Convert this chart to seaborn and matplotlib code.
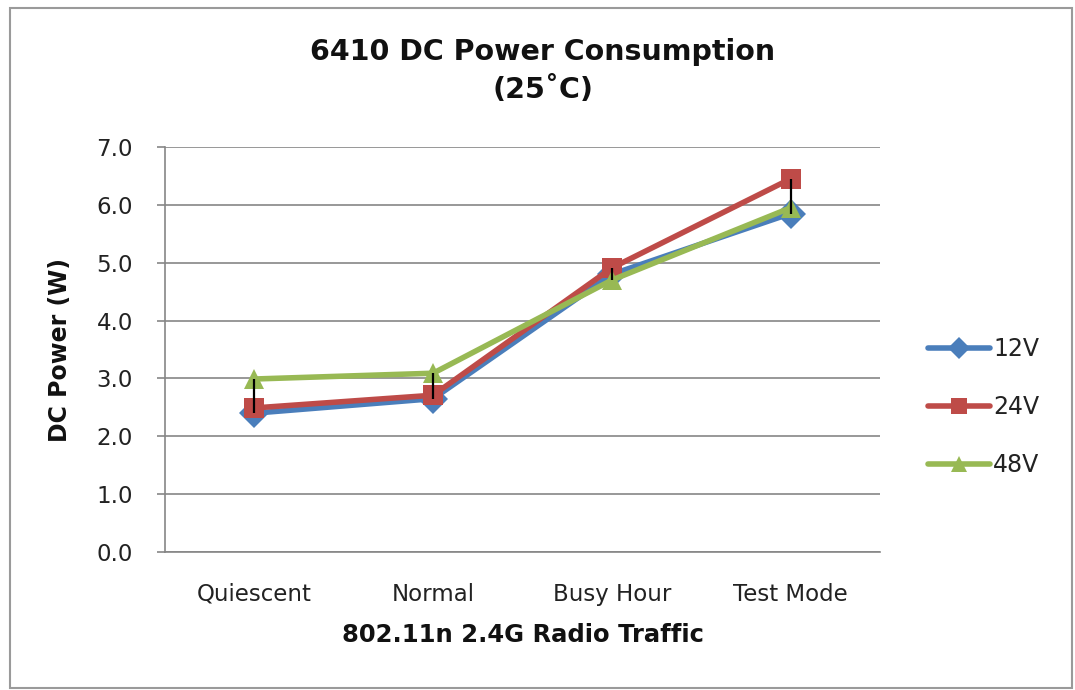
import numpy as np
import pandas as pd
import matplotlib
matplotlib.use("Agg")
import matplotlib.pyplot as plt
import seaborn as sns
from matplotlib.patches import Rectangle

# data
categories = ["Quiescent", "Normal", "Busy Hour", "Test Mode"]
v12 = [2.40, 2.65, 4.80, 5.85]
v24 = [2.49, 2.71, 4.91, 6.45]
v48 = [2.99, 3.09, 4.70, 5.95]
series = ["12V", "24V", "48V"]

df = pd.DataFrame({
    "cat": categories * 3,
    "x": list(range(len(categories))) * 3,
    "power": v12 + v24 + v48,
    "volt": [s for s in series for _ in categories],
})

sns.set_style("white")
plt.rcParams['font.family'] = ['DejaVu Sans']

palette = {"12V": "#4A7EBB", "24V": "#BE4B48", "48V": "#98B954"}
markers = {"12V": "D", "24V": "s", "48V": "^"}

fig = plt.figure(figsize=(10.75, 6.9), dpi=100)
ax = fig.add_axes([165 / 1075, 1 - 552 / 690, 715 / 1075, 405 / 690])

sns.lineplot(data=df, x="x", y="power", hue="volt", style="volt",
             palette=palette, markers=markers, dashes=False, linewidth=4,
             markersize=15, markeredgewidth=0, ax=ax, legend=False, zorder=3)

# high-low lines
lo = df.groupby("x")["power"].min()
hi = df.groupby("x")["power"].max()
ax.vlines(lo.index, lo.values, hi.values, color="black", linewidth=1.6, zorder=4)

ax.set_xlim(-0.5, 3.5)
ax.set_ylim(0, 7)
yt = np.arange(0, 7.01, 1.0)
ax.set_yticks(yt)
ax.set_yticklabels([f"{t:.1f}" for t in yt], fontsize=16.5, color="#222222")
ax.set_xticks(range(len(categories)))
ax.set_xticklabels(categories, fontsize=16.5, color="#222222")
ax.tick_params(axis="x", length=0, pad=22)
ax.tick_params(axis="y", length=6, color="#868686", width=1.2, left=True, pad=17)
ax.yaxis.grid(True, color="#868686", linewidth=1.2)
ax.set_axisbelow(True)
for s in ["top", "right"]:
    ax.spines[s].set_visible(False)
for s in ["left", "bottom"]:
    ax.spines[s].set_color("#868686")
    ax.spines[s].set_linewidth(1.2)

ax.set_xlabel("802.11n 2.4G Radio Traffic", fontsize=17.5, fontweight="bold", color="#111111")
ax.set_ylabel("DC Power (W)", fontsize=17, fontweight="bold", color="#111111")
ax.xaxis.set_label_coords(0.5, -0.175)
ax.yaxis.set_label_coords(-0.13, 0.5)

fig.text(543 / 1075, 1 - 71 / 690, "6410 DC Power Consumption\n(25\u02daC)",
         ha="center", va="center", fontsize=20.5, fontweight="bold", linespacing=1.45,
         color="#111111")

# legend
handles = [plt.Line2D([], [], color=palette[s], marker=markers[s], linewidth=4,
                      markersize=11, markeredgewidth=0) for s in series]
fig.legend(handles, series, loc="center left", bbox_to_anchor=(907 / 1075, 1 - 407 / 690),
           frameon=False, fontsize=17, handlelength=2.6, labelspacing=1.45,
           handletextpad=0.15, labelcolor="#222222")

# outer border
fig.patches.append(Rectangle((10 / 1075, 2 / 690), 1062 / 1075, 680 / 690,
                             transform=fig.transFigure, fill=False,
                             edgecolor="#9a9a9a", linewidth=1.5))

fig.savefig("out.png", dpi=100)
